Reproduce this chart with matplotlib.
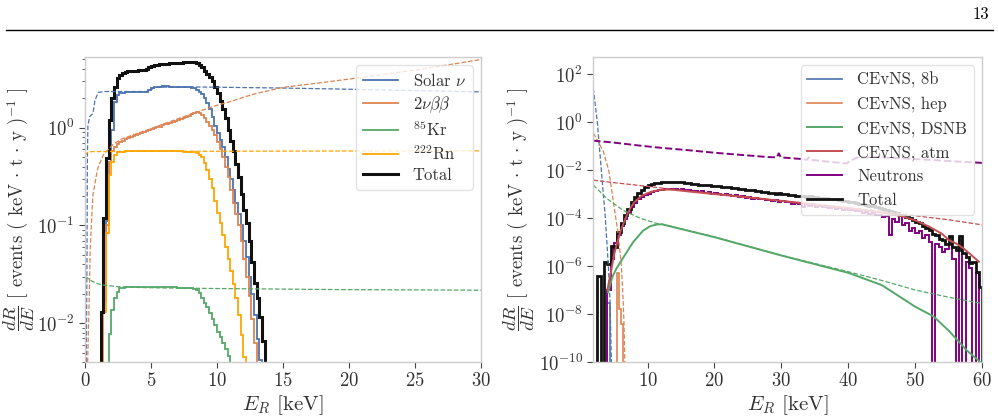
import numpy as np
import matplotlib
matplotlib.use("Agg")
import matplotlib.pyplot as plt
from matplotlib.lines import Line2D

plt.rcParams['font.family'] = 'serif'
plt.rcParams['font.serif'] = ['cmr10', 'DejaVu Serif']
plt.rcParams['mathtext.fontset'] = 'cm'
plt.rcParams['axes.formatter.use_mathtext'] = True
plt.rcParams['axes.unicode_minus'] = False

BLUE, ORANGE, GREEN, RED = '#4C72B0', '#DD8452', '#55A868', '#C44E52'

# ---------------- left panel data (ER background) ----------------
bin_w = 0.2

total_start = 1.2
total_vals = [0.013, 0.12, 0.49, 1.2, 2.0, 2.6, 3.2, 3.45, 3.6, 3.7, 3.78, 3.8, 3.82, 3.85,
              3.87, 3.88, 3.92, 3.98, 4.2, 4.32, 4.38, 4.42, 4.45, 4.48, 4.5, 4.53, 4.55,
              4.58, 4.6, 4.62, 4.65, 4.67, 4.7, 4.72, 4.72, 4.68, 4.55, 4.35, 4.15, 3.85,
              3.55, 3.3, 3.0, 2.6, 2.25, 1.9, 1.55, 1.25, 0.95, 0.74, 0.58, 0.43, 0.31,
              0.21, 0.145, 0.105, 0.07, 0.042, 0.026, 0.018, 0.0115, 0.0065]

solar_start = 1.4
solar_vals = [0.08, 0.11, 0.45, 0.95, 1.85, 2.15, 2.25, 2.28, 2.3, 2.3, 2.3, 2.3, 2.31, 2.3,
              2.3, 2.31, 2.32, 2.45, 2.58, 2.6, 2.62, 2.64, 2.65, 2.65, 2.65, 2.64, 2.64,
              2.63, 2.63, 2.62, 2.62, 2.61, 2.6, 2.58, 2.53, 2.45, 2.35, 2.2, 2.0, 1.8, 1.55,
              1.28, 1.05, 0.88, 0.75, 0.63, 0.5, 0.38, 0.3, 0.23, 0.17, 0.13, 0.1, 0.07,
              0.048, 0.03, 0.02, 0.012, 0.0068, 0.0042]

bb_start = 1.4
bb_vals = [0.017, 0.1, 0.45, 0.58, 0.63, 0.68, 0.72, 0.74, 0.77, 0.79, 0.81, 0.83, 0.85,
           0.87, 0.89, 0.91, 0.93, 0.95, 0.97, 0.99, 1.01, 1.03, 1.06, 1.08, 1.1, 1.12, 1.15,
           1.17, 1.2, 1.23, 1.26, 1.29, 1.33, 1.37, 1.42, 1.45, 1.42, 1.35, 1.25, 1.15, 1.05,
           0.95, 0.84, 0.72, 0.6, 0.5, 0.4, 0.31, 0.23, 0.17, 0.13, 0.1, 0.07, 0.045, 0.03,
           0.019, 0.011, 0.0062, 0.0035]

rn_start = 1.4
rn_vals = [0.013, 0.083, 0.33, 0.45, 0.53, 0.56, 0.57, 0.57, 0.575, 0.575, 0.575, 0.58, 0.58,
           0.58, 0.578, 0.578, 0.578, 0.575, 0.575, 0.575, 0.575, 0.575, 0.575, 0.575, 0.575,
           0.575, 0.575, 0.575, 0.575, 0.575, 0.57, 0.57, 0.57, 0.565, 0.56, 0.55, 0.53, 0.5,
           0.44, 0.37, 0.3, 0.24, 0.18, 0.135, 0.105, 0.08, 0.06, 0.045, 0.034, 0.025, 0.018,
           0.012, 0.0075, 0.0045]

kr_start = 1.8
kr_vals = [0.0078, 0.0136, 0.018, 0.021, 0.0228, 0.023, 0.0232, 0.0232, 0.0233, 0.0233,
           0.0233, 0.0233, 0.0233, 0.0233, 0.0233, 0.0233, 0.0233, 0.0233, 0.0233, 0.0233,
           0.0232, 0.0232, 0.0232, 0.0232, 0.0232, 0.0232, 0.0231, 0.0231, 0.023, 0.023,
           0.0229, 0.0228, 0.0226, 0.022, 0.0205, 0.018, 0.0162, 0.0146, 0.0128, 0.011,
           0.0095, 0.0082, 0.0072, 0.0062, 0.0054, 0.0046, 0.0038]

# unsmeared (dashed) spectra
solar_E = [0.1, 0.15, 0.18, 0.22, 0.35, 0.6, 0.75, 1.0, 1.5, 4.8, 5.3, 8.0, 10, 15, 20, 25, 30]
solar_R = [0.004, 0.05, 0.5, 1.05, 1.3, 1.4, 1.9, 2.3, 2.35, 2.35, 2.6, 2.62, 2.6, 2.55,
           2.48, 2.4, 2.33]
bb_E = [0.2, 0.29, 0.39, 0.59, 0.85, 1.0, 1.4, 2.1, 2.7, 4, 5, 6, 7, 8.5, 10, 11, 12, 13,
        15, 17.5, 20, 22.5, 25, 27.5, 30]
bb_R = [0.004, 0.012, 0.056, 0.2, 0.32, 0.4, 0.53, 0.67, 0.76, 0.88, 0.98, 1.1, 1.23, 1.45,
        1.7, 1.85, 2.05, 2.25, 2.59, 2.85, 3.15, 3.5, 3.9, 4.4, 5.0]
kr_E = [0, 0.5, 1, 1.5, 2.5, 4, 6, 10, 15, 20, 25, 30]
kr_R = [0.030, 0.027, 0.0252, 0.0244, 0.0236, 0.0232, 0.0229, 0.0226, 0.0223, 0.022,
        0.0219, 0.0217]
rn_E = [0, 0.2, 0.5, 5, 10, 20, 30]
rn_R = [0.52, 0.56, 0.57, 0.575, 0.575, 0.578, 0.58]

# ---------------- right panel data (NR background) ----------------
nr_start = 2.5
nr_w = 0.5
total_nr = [4e-7, 1e-12, 1.5e-6, 1.2e-6, 7e-6, 6e-6, 2.7e-5, 6e-5, 1.3e-4, 2.5e-4, 4.5e-4,
            7.5e-4, 1.1e-3, 1.5e-3, 1.9e-3, 2.3e-3, 2.6e-3, 2.85e-3, 3.0e-3, 3.1e-3, 3.15e-3,
            3.2e-3, 3.15e-3, 3.25e-3, 3.1e-3, 3.05e-3, 2.9e-3, 2.85e-3, 2.7e-3, 2.65e-3,
            2.5e-3, 2.45e-3, 2.4e-3, 2.3e-3, 2.25e-3, 2.2e-3, 2.1e-3, 2.05e-3, 1.95e-3,
            1.9e-3, 1.85e-3, 1.75e-3, 1.7e-3, 1.65e-3, 1.55e-3, 1.5e-3, 1.45e-3, 1.4e-3,
            1.3e-3, 1.25e-3, 1.2e-3, 1.15e-3, 1.1e-3, 1.05e-3, 1.1e-3, 1.0e-3, 9.7e-4,
            9.3e-4, 9.0e-4, 8.7e-4, 8.3e-4, 8.0e-4, 7.8e-4, 8.5e-4, 7.5e-4, 7.8e-4, 7.2e-4,
            7.0e-4, 6.8e-4, 6.5e-4, 6.2e-4, 6.0e-4, 5.7e-4, 5.3e-4, 5.0e-4, 4.8e-4, 4.5e-4,
            4.3e-4, 4.0e-4, 3.8e-4, 3.6e-4, 3.3e-4, 3.1e-4, 2.9e-4, 2.7e-4, 2.5e-4, 2.2e-4,
            2.0e-4, 1.8e-4, 1.6e-4, 1.3e-4, 1.4e-4, 1.1e-4, 1.0e-4, 8.5e-5, 7e-5, 6e-5,
            4.5e-5, 4e-5, 3.2e-5, 2.2e-5, 2e-5, 1.4e-5, 1.2e-5, 8e-6, 1.8e-5, 6e-6, 4.6e-6,
            1.8e-5, 3.5e-6, 2.5e-6, 1.3e-6, 1.5e-6, 5.5e-7, 1.3e-7]
neutron_nr = [1e-12, 1e-12, 1e-12, 1e-7, 2e-6, 9e-6, 2e-5, 4.5e-5, 9e-5, 1.7e-4, 2.8e-4,
              4.2e-4, 6e-4, 7.5e-4, 9e-4, 1.05e-3, 1.2e-3, 1.35e-3, 1.45e-3, 1.55e-3, 1.6e-3,
              1.65e-3, 1.6e-3, 1.7e-3, 1.55e-3, 1.6e-3, 1.45e-3, 1.5e-3, 1.35e-3, 1.4e-3,
              1.25e-3, 1.3e-3, 1.15e-3, 1.2e-3, 1.05e-3, 1.1e-3, 1.0e-3, 9.5e-4, 1.0e-3,
              9.0e-4, 8.5e-4, 9.0e-4, 7.8e-4, 8.0e-4, 7.2e-4, 7.5e-4, 6.5e-4, 7.0e-4, 6.0e-4,
              6.2e-4, 5.5e-4, 5.8e-4, 5.2e-4, 5.5e-4, 4.8e-4, 5.0e-4, 4.5e-4, 4.7e-4, 4.0e-4,
              4.3e-4, 3.7e-4, 3.0e-4, 3.8e-4, 3.2e-4, 3.5e-4, 3.0e-4, 3.2e-4, 2.8e-4, 3.0e-4,
              2.6e-4, 2.8e-4, 2.4e-4, 2.6e-4, 2.2e-4, 2.4e-4, 2.1e-4, 2.2e-4, 1.9e-4, 2.0e-4,
              1.7e-4, 1.8e-4, 1.5e-4, 1.6e-4, 1.3e-4, 1.4e-4, 1.1e-4, 1.2e-4, 2e-5, 9e-5, 7e-5,
              1.2e-4, 5e-5, 6e-5, 3e-5, 4e-5, 2.5e-5, 3e-5, 1.5e-5, 2e-5, 1e-5, 1e-12, 8e-6,
              6e-6, 4e-6, 5e-6, 8e-6, 2e-6, 1e-12, 1.2e-5, 1e-12, 1.5e-6, 8e-7, 1e-12, 5e-7,
              1e-12]
hep_start = 5.4
hep_edges_w = [0.4, 0.3, 0.3]
hep_nr = [5e-7, 1.6e-8, 4e-9]
b8_start = 4.0
b8_nr = [3e-8]

atm_E = [4.0, 4.5, 5.0, 5.5, 6, 6.5, 7, 7.5, 8, 9, 10, 11, 12, 13, 14, 16, 20, 25, 30, 35,
         40, 45, 48, 50, 52, 54, 55, 56, 57, 58, 59, 59.5]
atm_R = [1e-7, 5e-7, 3e-6, 1e-5, 3e-5, 7e-5, 1.5e-4, 2.8e-4, 4.5e-4, 8e-4, 1.1e-3, 1.35e-3,
         1.5e-3, 1.55e-3, 1.5e-3, 1.3e-3, 1.0e-3, 7.3e-4, 5.2e-4, 3.7e-4, 2.6e-4, 1.7e-4,
         1.2e-4, 8e-5, 4.5e-5, 2.2e-5, 1.2e-5, 9e-6, 6e-6, 3.5e-6, 2e-6, 1.5e-6]
dsnb_E = [4.1, 4.75, 5.36, 6.35, 7.85, 9.34, 10.4, 11.35, 12.2, 12.8, 14, 20, 30, 40, 45,
          50, 52.7, 55, 57.7, 59.7]
dsnb_R = [8e-8, 3.5e-7, 8e-7, 2.2e-6, 1.0e-5, 3.0e-5, 4.6e-5, 5.4e-5, 5.5e-5, 5.0e-5,
          4.1e-5, 1.6e-5, 2.75e-6, 5.2e-7, 1.6e-7, 2e-8, 8e-9, 2e-9, 3e-10, 1e-10]

b8_dE = [1.9, 2.5, 3.1, 3.7, 4.15, 4.4, 4.6]
b8_dR = [26, 1.0, 1e-2, 1e-4, 1e-6, 3e-8, 1e-10]
hep_dE = [1.9, 2.6, 3.4, 4.2, 4.86, 5.6, 6.1, 6.35, 6.5, 6.6]
hep_dR = [0.35, 0.16, 0.06, 1e-2, 5.6e-4, 2.3e-5, 1e-6, 4e-8, 3e-9, 1e-10]
dsnb_dE = [1.9, 3.9, 6.35, 8.85, 11.35, 12.8, 14, 20, 30, 40, 45, 50, 55, 60]
dsnb_dR = [2.4e-3, 6.6e-4, 2.1e-4, 1.0e-4, 6e-5, 5.1e-5, 4.2e-5, 1.65e-5, 2.8e-6, 5.8e-7,
           2.5e-7, 1.0e-7, 5e-8, 2.75e-8]
atm_dE = [1.9, 5, 10, 15, 20, 25, 30, 35, 40, 45, 50, 55, 60]
atm_dR = [3.8e-3, 3.0e-3, 2.1e-3, 1.45e-3, 1.05e-3, 7.5e-4, 5.3e-4, 3.8e-4, 2.7e-4, 1.9e-4,
          1.25e-4, 8.5e-5, 5.2e-5]
neu_dE = [1.9, 5, 8.85, 12, 16, 20, 24, 28, 29.3, 29.6, 29.9, 33, 33.8, 34.1, 34.4, 36, 38,
          39.7, 41.2, 44, 48, 52, 56, 60]
neu_dR = [0.17, 0.14, 0.105, 0.085, 0.068, 0.053, 0.043, 0.035, 0.034, 0.05, 0.034, 0.029,
          0.027, 0.034, 0.027, 0.024, 0.021, 0.019, 0.033, 0.035, 0.031, 0.027, 0.023, 0.02]


def edges_for(start, vals, w):
    return start + w * np.arange(len(vals) + 1)


fig = plt.figure(figsize=(9.99, 4.17), dpi=100)
ax1 = fig.add_axes([0.0851, 0.1319, 0.3964, 0.7314])
ax2 = fig.add_axes([0.5939, 0.1319, 0.3894, 0.7314])

# page header
fig.add_artist(Line2D([0.006, 0.994], [0.927, 0.927], color='black', lw=1.0))
fig.text(0.99, 0.966, '13', ha='right', va='center', fontsize=12)

# ---- left ----
ax1.set_yscale('log')
ax1.plot(solar_E, solar_R, '--', color=BLUE, lw=0.9)
ax1.plot(bb_E, bb_R, '--', color=ORANGE, lw=0.9)
ax1.plot(kr_E, kr_R, '--', color=GREEN, lw=0.9)
ax1.plot(rn_E, rn_R, '--', color='orange', lw=0.9)
ax1.stairs(solar_vals, edges_for(solar_start, solar_vals, bin_w), baseline=1e-9,
           color=BLUE, lw=1.3, label=r'Solar $\nu$')
ax1.stairs(bb_vals, edges_for(bb_start, bb_vals, bin_w), baseline=1e-9,
           color=ORANGE, lw=1.3, label=r'$2\nu\beta\beta$')
ax1.stairs(kr_vals, edges_for(kr_start, kr_vals, bin_w), baseline=1e-9,
           color=GREEN, lw=1.3, label=r'$^{85}$Kr')
ax1.stairs(rn_vals, edges_for(rn_start, rn_vals, bin_w), baseline=1e-9,
           color='orange', lw=1.3, label=r'$^{222}$Rn')
ax1.stairs(total_vals, edges_for(total_start, total_vals, bin_w), baseline=1e-9,
           color='#111111', lw=2.2, label='Total')
ax1.set_xlim(0, 30)
ax1.set_ylim(4e-3, 5.3)

# ---- right ----
ax2.set_yscale('log')
ax2.plot(b8_dE, b8_dR, '--', color=BLUE, lw=0.9)
ax2.plot(hep_dE, hep_dR, '--', color=ORANGE, lw=0.9)
ax2.plot(dsnb_dE, dsnb_dR, '--', color=GREEN, lw=0.9)
ax2.plot(atm_dE, atm_dR, '--', color=RED, lw=0.9)
ax2.plot(neu_dE, neu_dR, '--', color='purple', lw=1.4)
ax2.stairs(b8_nr, edges_for(b8_start, b8_nr, 0.4), baseline=1e-12, color=BLUE, lw=1.2,
           label='CEvNS, 8b')
ax2.stairs(hep_nr, hep_start + np.concatenate([[0], np.cumsum(hep_edges_w)]), baseline=1e-12,
           color=ORANGE, lw=1.2, label='CEvNS, hep')
ax2.plot(dsnb_E, dsnb_R, color=GREEN, lw=1.4, label='CEvNS, DSNB')
ax2.plot(atm_E, atm_R, color=RED, lw=1.4, label='CEvNS, atm')
ax2.stairs(neutron_nr, edges_for(nr_start, neutron_nr, nr_w), baseline=1e-12,
           color='purple', lw=1.4, label='Neutrons')
ax2.stairs(total_nr, edges_for(nr_start, total_nr, nr_w), baseline=1e-12,
           color='#111111', lw=2.0, label='Total')
ax2.set_xlim(1.9, 60)
ax2.set_ylim(1e-10, 5.2e2)
ax2.set_yticks([1e2, 1e0, 1e-2, 1e-4, 1e-6, 1e-8, 1e-10])
ax2.set_xticks([10, 20, 30, 40, 50, 60])

ylab = r'$\dfrac{dR}{dE}$ [ events ( keV $\cdot$ t $\cdot$ y )$^{-1}$ ]'
for ax, lx, lsp in ((ax1, -0.121, 0.3), (ax2, -0.145, 0.5)):
    for sp in ax.spines.values():
        sp.set_color('#cccccc')
        sp.set_linewidth(1.0)
    ax.tick_params(which='both', colors='#444444', labelcolor='#333333', labelsize=13.5)
    ax.tick_params(which='major', length=4)
    ax.tick_params(which='minor', length=2)
    ax.set_xlabel(r'$E_R$ [keV]', fontsize=15, color='#333333', labelpad=2)
    ax.set_ylabel(ylab, fontsize=13.5, color='#333333')
    ax.yaxis.set_label_coords(lx, 0.5)
    leg = ax.legend(loc='upper right', fontsize=12, handlelength=2.1, handletextpad=0.9,
                    framealpha=0.8, edgecolor='#dddddd', fancybox=True, labelspacing=lsp)
    for t in leg.get_texts():
        t.set_color('#333333')

fig.savefig('out.png', dpi=100)
